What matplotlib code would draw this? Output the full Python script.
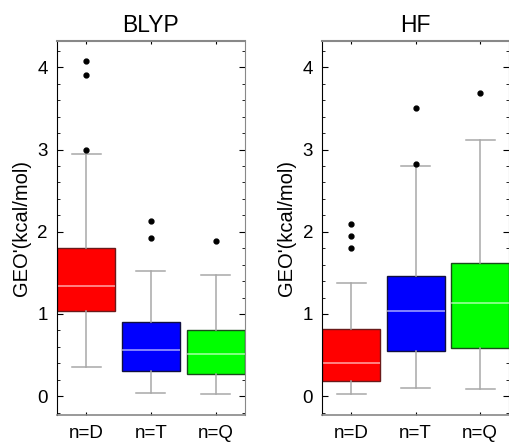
import numpy as np
from matplotlib import pyplot as plt
from matplotlib.ticker import MultipleLocator

plt.rcParams["font.family"] = ["Liberation Sans", "DejaVu Sans"]

categories = ["n=D", "n=T", "n=Q"]
colors = ["#ff0000", "#0000ff", "#00ff00"]
edge_colors = ["#6a1a1a", "#101040", "#1a4a1a"]

# BLYP
blyp_whislo = [0.36, 0.04, 0.03]
blyp_q1 = [1.03, 0.30, 0.27]
blyp_med = [1.34, 0.56, 0.51]
blyp_q3 = [1.80, 0.90, 0.80]
blyp_whishi = [2.95, 1.52, 1.48]
blyp_fliers = [[4.08, 3.91, 3.00], [2.13, 1.92], [1.89]]

# HF
hf_whislo = [0.02, 0.10, 0.09]
hf_q1 = [0.18, 0.55, 0.59]
hf_med = [0.40, 1.04, 1.13]
hf_q3 = [0.82, 1.46, 1.62]
hf_whishi = [1.38, 2.80, 3.12]
hf_fliers = [[2.10, 1.95, 1.80], [3.50, 2.83], [3.69]]


def draw_panel(ax, title, whislo, q1, med, q3, whishi, fliers):
    stats = []
    for i in range(len(categories)):
        stats.append(dict(whislo=whislo[i], q1=q1[i], med=med[i], q3=q3[i],
                          whishi=whishi[i], fliers=fliers[i]))
    parts = ax.bxp(stats, positions=[1, 2, 3], widths=0.9, patch_artist=True,
                   capwidths=0.45,
                   whiskerprops=dict(color="#a8a8a8", linewidth=1.1),
                   capprops=dict(color="#a8a8a8", linewidth=1.1),
                   medianprops=dict(color="white", alpha=0.6, linewidth=1.2),
                   flierprops=dict(marker="o", markerfacecolor="black",
                                   markeredgecolor="black", markersize=3.5))
    for box, fc, ec in zip(parts["boxes"], colors, edge_colors):
        box.set_facecolor(fc)
        box.set_edgecolor(ec)
        box.set_linewidth(1.0)

    ax.set_xlim(0.55, 3.45)
    ax.set_ylim(-0.23, 4.32)
    ax.set_xticks([1, 2, 3])
    ax.set_xticklabels(categories, fontsize=13.5)
    ax.yaxis.set_major_locator(MultipleLocator(1))
    ax.yaxis.set_minor_locator(MultipleLocator(0.2))
    ax.tick_params(axis="y", which="both", direction="in", left=True, right=True,
                   labelsize=13.5, pad=6.5)
    ax.tick_params(axis="y", which="major", length=4)
    ax.tick_params(axis="y", which="minor", length=2)
    ax.tick_params(axis="x", direction="in", top=True, bottom=True, length=2, pad=7)
    ax.set_ylabel("GEO'(kcal/mol)", fontsize=14.5, labelpad=5)
    ax.set_title(title, fontsize=16.5, pad=6.5)
    ax.spines["left"].set_color("black")
    for s in ["top", "bottom", "right"]:
        ax.spines[s].set_color("#888888")
    ax.spines["top"].set_linewidth(1.5)
    ax.spines["bottom"].set_linewidth(1.2)


fig = plt.figure(figsize=(5.09, 4.42), dpi=100)
ax1 = fig.add_axes([0.112, 0.061, 0.369, 0.846])
ax2 = fig.add_axes([0.633, 0.061, 0.367, 0.846])

draw_panel(ax1, "BLYP", blyp_whislo, blyp_q1, blyp_med, blyp_q3, blyp_whishi, blyp_fliers)
draw_panel(ax2, "HF", hf_whislo, hf_q1, hf_med, hf_q3, hf_whishi, hf_fliers)

fig.savefig("out.png", dpi=100)
